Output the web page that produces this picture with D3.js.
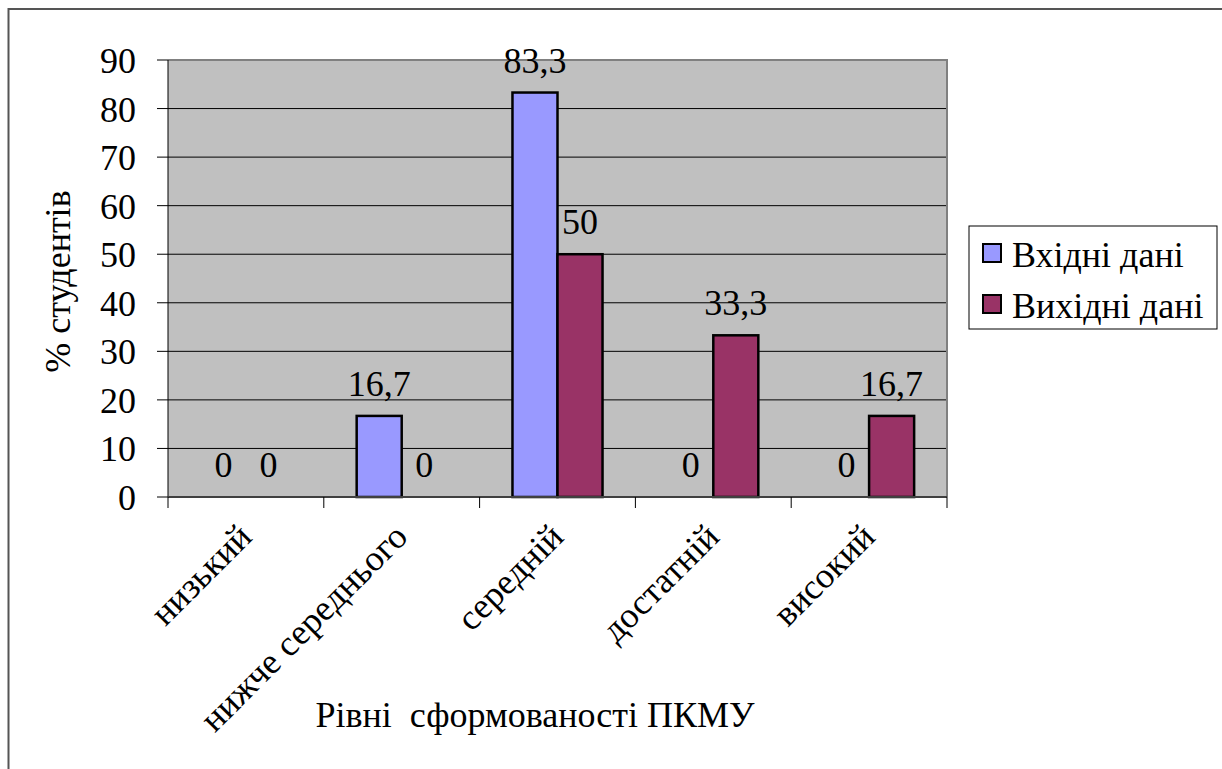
<!DOCTYPE html>
<html>
<head>
<meta charset="utf-8">
<script src="https://cdn.jsdelivr.net/npm/d3@7"></script>
</head>
<body style="margin:0">
<script>
const categories = ["низький", "нижче середнього", "середній", "достатній", "високий"]
const seriesNames = ["Вхідні дані", "Вихідні дані"]
const inputValues = [0, 16.7, 83.3, 0, 0]
const outputValues = [0, 0, 50, 33.3, 16.7]
const yTicks = [0, 10, 20, 30, 40, 50, 60, 70, 80, 90]
const colors = ["#9999ff", "#993366"]

const width = 1222, height = 769
const margin = ({ top: 60, right: 275, bottom: 272, left: 168 })
const fontSize = 36

const svg = d3.select("body").append("svg")
    .attr("width", width)
    .attr("height", height)
    .style("font-family", '"Liberation Serif"')
    .style("font-size", fontSize + "px")

// outer chart frame (right/bottom edges fall outside the picture)
svg.append("rect")
    .attr("x", 8.5).attr("y", 9)
    .attr("width", 1230).attr("height", 800)
    .attr("fill", "none")
    .attr("stroke", "#555")
    .attr("stroke-width", 2)

const x0 = d3.scaleBand()
    .domain(categories)
    .range([margin.left, width - margin.right])
    .padding(0)

const x1 = d3.scaleBand()
    .domain(seriesNames)
    .range([0, x0.bandwidth()])
    .paddingInner(0)
    .paddingOuter(0.73)

const y = d3.scaleLinear()
    .domain([0, 90])
    .range([height - margin.bottom, margin.top])

const color = d3.scaleOrdinal(seriesNames, colors)

const data = categories.map((c, i) => ({
    cat: c,
    values: [
        { name: seriesNames[0], value: inputValues[i] },
        { name: seriesNames[1], value: outputValues[i] }
    ]
}))

// plot background
svg.append("rect")
    .attr("x", margin.left).attr("y", margin.top)
    .attr("width", x0.range()[1] - margin.left)
    .attr("height", y(0) - margin.top)
    .attr("fill", "#c0c0c0")

// gridlines
svg.append("g")
    .selectAll("line")
    .data(yTicks.filter(d => d > 0 && d < 90))
    .join("line")
    .attr("x1", margin.left).attr("x2", x0.range()[1])
    .attr("y1", d => y(d)).attr("y2", d => y(d))
    .attr("stroke", "#000")
    .attr("stroke-width", 1)

// frame top / right
svg.append("path")
    .attr("d", `M${margin.left},${y(90)}H${x0.range()[1]}V${y(0)}`)
    .attr("fill", "none")
    .attr("stroke", "#808080")
    .attr("stroke-width", 2)

// bars
const groups = svg.append("g")
    .selectAll("g")
    .data(data)
    .join("g")
    .attr("transform", d => `translate(${x0(d.cat)},0)`)

groups.selectAll("rect")
    .data(d => d.values.filter(v => v.value > 0))
    .join("rect")
    .attr("x", d => x1(d.name))
    .attr("y", d => y(d.value))
    .attr("width", x1.bandwidth())
    .attr("height", d => y(0) - y(d.value))
    .attr("fill", d => color(d.name))
    .attr("stroke", "#000")
    .attr("stroke-width", 2.5)

groups.selectAll("text")
    .data(d => d.values)
    .join("text")
    .attr("x", d => x1(d.name) + x1.bandwidth() / 2)
    .attr("y", d => y(d.value) - 20)
    .attr("text-anchor", "middle")
    .text(d => String(d.value).replace(".", ","))

// y axis (drawn by hand from the scale)
const yAxis = svg.append("g")
yAxis.append("line")
    .attr("x1", margin.left).attr("x2", margin.left)
    .attr("y1", y(0)).attr("y2", y(90))
    .attr("stroke", "#000")
const yTick = yAxis.selectAll(".ytick")
    .data(yTicks)
    .join("g")
    .attr("class", "ytick")
    .attr("transform", d => `translate(${margin.left},${y(d)})`)
yTick.append("line")
    .attr("x1", -11).attr("x2", 0)
    .attr("stroke", "#000")
yTick.append("text")
    .attr("x", -32)
    .attr("dy", "0.36em")
    .attr("text-anchor", "end")
    .text(d => d)

// x axis
const xAxis = svg.append("g").attr("transform", `translate(0,${y(0)})`)
xAxis.append("line")
    .attr("x1", margin.left).attr("x2", x0.range()[1])
    .attr("stroke", "#404040").attr("stroke-width", 2)
xAxis.selectAll(".xtick")
    .data(categories.map(c => x0(c)).concat([x0.range()[1]]))
    .join("line")
    .attr("class", "xtick")
    .attr("x1", d => d).attr("x2", d => d)
    .attr("y1", 0).attr("y2", 11)
    .attr("stroke", "#000")
xAxis.selectAll(".xlabel")
    .data(categories)
    .join("text")
    .attr("class", "xlabel")
    .attr("text-anchor", "end")
    .attr("transform", d => `translate(${x0(d) + x0.bandwidth() / 2 - 10},${24}) rotate(-45)`)
    .attr("dy", "0.7em")
    .text(d => d)

// axis titles
svg.append("text")
    .attr("transform", `translate(70,${(margin.top + y(0)) / 2 + 3}) rotate(-90)`)
    .attr("text-anchor", "middle")
    .text("% студентів")

svg.append("text")
    .attr("x", 535)
    .attr("y", 727)
    .attr("text-anchor", "middle")
    .style("white-space", "pre")
    .text("Рівні  сформованості ПКМУ")

// legend
const legend = svg.append("g").attr("transform", "translate(969,226)")
legend.append("rect")
    .attr("width", 248).attr("height", 103)
    .attr("fill", "#fff")
    .attr("stroke", "#000")
    .attr("stroke-width", 1)

const items = legend.selectAll("g")
    .data(seriesNames)
    .join("g")
    .attr("transform", (d, i) => `translate(14,${18 + i * 51})`)

items.append("rect")
    .attr("width", 18).attr("height", 18)
    .attr("fill", d => color(d))
    .attr("stroke", "#000")
    .attr("stroke-width", 2)

items.append("text")
    .attr("x", 29)
    .attr("y", 23)
    .text(d => d)
</script>
</body>
</html>
